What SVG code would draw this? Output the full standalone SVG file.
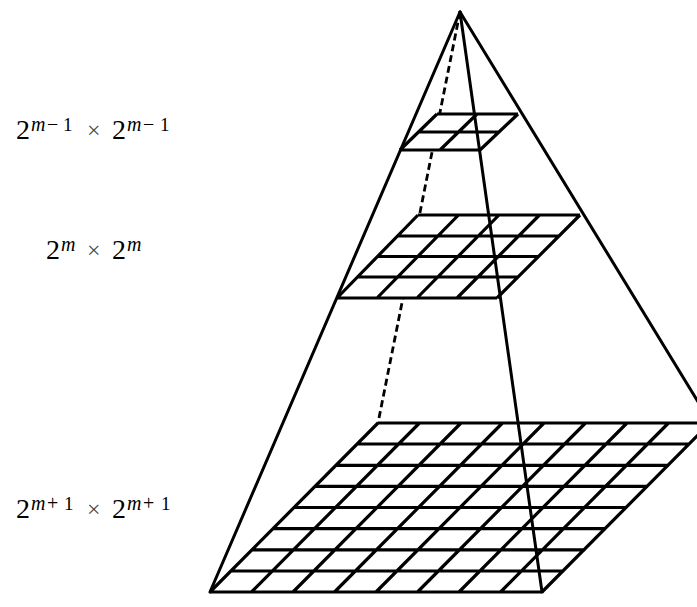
<svg xmlns="http://www.w3.org/2000/svg" width="697" height="607" viewBox="0 0 697 607">
<style>
.e{stroke:#000;stroke-width:3;fill:none;stroke-linecap:round}
.g{stroke:#000;stroke-width:3.2;fill:none}
.bg{fill:#fff;stroke:none}
.d{stroke:#000;stroke-width:2.8;fill:none;stroke-dasharray:7 4}
text{font-family:"Liberation Serif","Times New Roman",serif;fill:#000}
.m{font-style:italic}
.x{fill:#444}
</style>
<rect width="697" height="607" fill="#fff"/>
<g id="connectors">
<line class="d" x1="460" y1="12" x2="378" y2="423"/>
<line class="e" x1="460" y1="12" x2="210" y2="592"/>
<line class="e" x1="460" y1="12" x2="711" y2="423"/>
</g>
<g id="grid-top">
<polygon class="bg" points="437,114 518,114 480,150 400,150"/>
<path class="g" d="M437,114H518M419,132H499M400,150H480M437,114L400,150M477,114L440,150M518,114L480,150"/>
</g>
<g id="grid-mid">
<polygon class="bg" points="418,215 580,215 497,298 337,298"/>
<path class="g" d="M418,215H580M397,236H559M377,256.5H539M357,277H518M337,298H497M418,215L337,298M458.5,215L377,298M499,215L417,298M539.5,215L457,298M580,215L497,298"/>
</g>
<g id="grid-bottom">
<polygon class="bg" points="378,423 711,423 542,592 210,592"/>
<path class="g" d="M378,423H711M357,444H690M336,465.3H669M315,486.4H648M294,507.5H627M273,528.6H606M252,549.8H585M231,571H564M210,592H542
M378,423L210,592M419.5,423L251.5,592M461,423L293,592M502.5,423L334.5,592M544,423L376,592M585.5,423L417.5,592M627,423L459,592M668.5,423L500.5,592M710,423L542,592"/>
</g>
<g id="front-edge">
<line class="e" x1="460" y1="12" x2="542" y2="592"/>
</g>
<g id="label-top">
<text x="16" y="139" font-size="28">2</text>
<text x="31" y="131" font-size="20" class="m">m</text>
<text x="47" y="131" font-size="20">−</text>
<text x="63" y="131" font-size="19">1</text>
<text x="87" y="138" font-size="24" class="x">×</text>
<text x="112" y="139" font-size="28">2</text>
<text x="127" y="131" font-size="20" class="m">m</text>
<text x="143" y="131" font-size="20">−</text>
<text x="160" y="131" font-size="19">1</text>
</g>
<g id="label-mid">
<text x="46" y="259" font-size="28">2</text>
<text x="61" y="251" font-size="20" class="m">m</text>
<text x="87" y="258" font-size="24" class="x">×</text>
<text x="112" y="259" font-size="28">2</text>
<text x="127" y="251" font-size="20" class="m">m</text>
</g>
<g id="label-bottom">
<text x="16" y="518" font-size="28">2</text>
<text x="31" y="510" font-size="20" class="m">m</text>
<text x="47" y="510" font-size="20">+</text>
<text x="64" y="510" font-size="19">1</text>
<text x="87" y="517" font-size="24" class="x">×</text>
<text x="112" y="518" font-size="28">2</text>
<text x="127" y="510" font-size="20" class="m">m</text>
<text x="143" y="510" font-size="20">+</text>
<text x="161" y="510" font-size="19">1</text>
</g>
</svg>
